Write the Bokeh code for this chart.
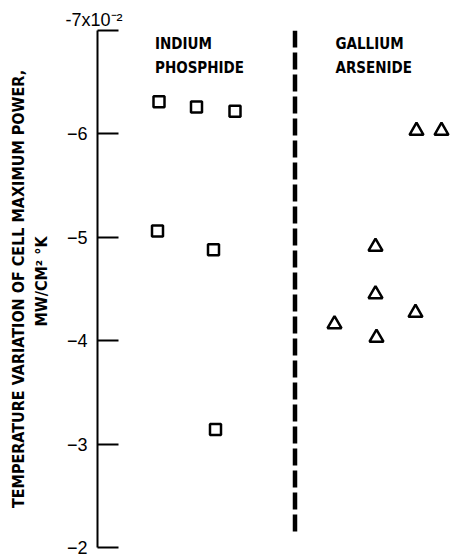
from bokeh.plotting import figure
from bokeh.models import Range1d, FixedTicker
from bokeh.core.properties import value
from bokeh.embed import file_html
from bokeh.resources import INLINE

# ---- data ----
y_ticks = [-7, -6, -5, -4, -3, -2]

# Indium phosphide (squares)
inp_x = [6.15, 9.9, 13.75, 6.0, 11.6, 11.8]
inp_y = [-6.31, -6.26, -6.22, -5.06, -4.88, -3.14]

# Gallium arsenide (triangles)
gaas_x = [31.9, 34.4, 27.8, 27.8, 31.8, 23.7, 27.9]
gaas_y = [-6.03, -6.03, -4.91, -4.45, -4.27, -4.16, -4.03]

group_line1 = ["INDIUM", "GALLIUM"]
group_line2 = ["PHOSPHIDE", "ARSENIDE"]
group_x = [5.75, 23.8]

divider_x = [19.75, 19.75]
divider_y = [-7.0, -2.15]

ylabel_1 = "TEMPERATURE VARIATION OF CELL MAXIMUM POWER,"
ylabel_2 = "\u00a0\u00a0\u00a0MW/CM\u00b2 \u00b0K"
top_label = "-7x10\u207b\u00b2"

LABEL_FONT = "DejaVu Sans Condensed"
NUM_FONT = "Liberation Sans"

p = figure(width=456, height=559, output_backend="svg", toolbar_location=None,
           x_range=Range1d(0, 35.9), y_range=Range1d(-2, -7),
           x_axis_type=None,
           min_border_left=97, min_border_top=30, min_border_bottom=12,
           min_border_right=0)
p.outline_line_color = None
p.ygrid.grid_line_color = None
p.background_fill_color = "white"
p.border_fill_color = "white"

ax = p.yaxis[0]
ax.ticker = FixedTicker(ticks=y_ticks)
ax.major_tick_in = 21
ax.major_tick_out = 0
ax.minor_tick_line_color = None
ax.axis_line_width = 2
ax.major_tick_line_width = 2
ax.axis_line_color = "black"
ax.major_tick_line_color = "black"
ax.major_label_text_font = NUM_FONT
ax.major_label_text_font_size = "18px"
ax.major_label_text_color = "black"
ax.major_label_standoff = 10
ax.major_label_overrides = {-7: ""}
ax.axis_label = ylabel_1 + "\n" + ylabel_2
ax.axis_label_text_font = LABEL_FONT
ax.axis_label_text_font_size = "16px"
ax.axis_label_text_font_style = "bold"
ax.axis_label_text_color = "black"
ax.axis_label_text_line_height = 1.2
ax.axis_label_standoff = 13

# top tick label with multiplier, placed above the axis top
p.title.text = top_label
p.title.align = "left"
p.title.offset = -32
p.title.standoff = 2
p.title.text_font = NUM_FONT
p.title.text_font_size = "18px"
p.title.text_font_style = "normal"
p.title.text_color = "black"

# separator
p.line(divider_x, divider_y, line_color="black", line_width=4.5, line_dash="17 5")

# markers
p.scatter(inp_x, inp_y, marker="square", size=11, fill_color=None,
          line_color="black", line_width=2.5)
p.scatter(gaas_x, gaas_y, marker="triangle", size=14, fill_color=None,
          line_color="black", line_width=2.5)

# group names
p.text(x=group_x, y=[-6.87, -6.87], text=group_line1, text_font=value(LABEL_FONT),
       text_font_size="15px", text_font_style="bold", text_color="black",
       text_baseline="alphabetic", text_align="left")
p.text(x=group_x, y=[-6.64, -6.64], text=group_line2, text_font=value(LABEL_FONT),
       text_font_size="15px", text_font_style="bold", text_color="black",
       text_baseline="alphabetic", text_align="left")

open("out.html", "w").write(file_html(p, INLINE))
